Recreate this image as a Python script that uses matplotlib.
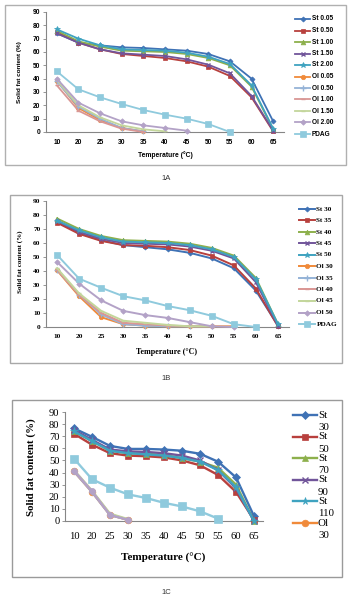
import matplotlib
matplotlib.use("Agg")
import matplotlib.pyplot as plt
from matplotlib.lines import Line2D
from matplotlib.patches import Rectangle

W, H = 348, 600

temps = ["10", "20", "25", "30", "35", "40", "45", "50", "55", "60", "65"]

# ---- Panel 1A ----
labels_a = ["St 0.05", "St 0.50", "St 1.00", "St 1.50", "St 2.00",
            "Ol 0.05", "Ol 0.50", "Ol 1.00", "Ol 1.50", "Ol 2.00", "PDAG"]
st005 = [74, 67, 65, 63.5, 63, 62, 61, 58.5, 53, 40, 8]
st050 = [75, 67, 62, 58.5, 57, 55.5, 53, 49, 42, 26, 0.5]
st100 = [76, 68, 64, 61, 60.5, 60, 58.5, 55.5, 50, 34, 2]
st150 = [74, 67, 62, 59, 58, 57, 54.5, 50.5, 44, 27, 1]
st200 = [77, 70, 65, 62, 61.5, 61, 59.5, 56.5, 51, 35, 2.5]
ol005 = [38.5, 18, 9, 3, 0.5]
ol050 = [38, 19, 10, 3, 0.5]
ol100 = [35, 16, 8, 2.5, 0]
ol150 = [39, 20, 11, 5, 2, 0.5]
ol200 = [40, 22, 14, 8, 5, 3, 1]
pdag_a = [45.5, 32, 26, 21, 16.5, 13, 10, 6, 0]
series_a = [st005, st050, st100, st150, st200, ol005, ol050, ol100, ol150, ol200, pdag_a]

# ---- Panel 1B ----
labels_b = ["St 30", "St 35", "St 40", "St 45", "St 50",
            "Ol 30", "Ol 35", "Ol 40", "Ol 45", "Ol 50", "PDAG"]
st30 = [75.5, 67, 62, 58.5, 57, 55.5, 53, 49, 42, 26, 1]
st35 = [74.5, 66.5, 61.5, 58.5, 58, 57, 55, 51, 44, 27.5, 0.5]
st40 = [77.5, 70, 65, 62, 61.5, 61, 59.5, 56.5, 51, 35, 2]
st45 = [76, 68, 63, 60, 59.5, 59, 57.5, 54.5, 49, 32, 1]
st50 = [76, 69, 64, 61, 60.5, 60, 58.5, 55.5, 50, 34, 2]
ol30 = [40.5, 22, 7, 2, 1, 0.5, 0.5, 0.5, 0.5]
ol35 = [41, 23, 9, 2, 1, 0.5, 0.5, 0.5]
ol40 = [41, 23, 10, 3, 2, 1, 0.5, 0.5]
ol45 = [42, 24, 11.5, 4.5, 3, 1.5, 0.5, 0.5]
ol50 = [46.5, 31, 19, 11.5, 8.5, 6.5, 3.5, 0.5, 0]
pdag_b = [51.5, 34.5, 28, 22, 19, 15, 12, 8, 2, 0]
series_b = [st30, st35, st40, st45, st50, ol30, ol35, ol40, ol45, ol50, pdag_b]

# ---- Panel 1C ----
labels_c = ["St\n30", "St\n50", "St\n70", "St\n90", "St\n110", "Ol\n30",
            "Ol\n50", "Ol\n70", "Ol\n90", "Ol\n110", "PDAG"]
c_st30 = [76.5, 69.5, 62, 59.5, 59.5, 59, 58, 55.5, 49, 36, 4]
c_st50 = [72, 63, 56, 54, 53.5, 52.5, 50, 46, 38, 24, 1]
c_st70 = [74, 66, 58, 56, 55.5, 54.5, 52, 49, 44, 30, 0]
c_st90 = [75, 67, 59, 57.5, 57, 56, 54, 50, 42, 27, 0]
c_st110 = [74, 66, 58, 56, 55, 54, 52, 49, 42, 28, 0]
c_ol30 = [41, 24, 5, 1]
c_ol50 = [41, 24, 5, 1]
c_ol70 = [41.5, 24.5, 5.5, 1]
c_ol90 = [42, 25, 6, 1.5]
c_ol110 = [41.5, 24.5, 5, 1]
c_pdag = [51.5, 34.5, 27.5, 22, 19, 15, 12, 8, 2]
series_c = [c_st30, c_st50, c_st70, c_st90, c_st110, c_ol30,
            c_ol50, c_ol70, c_ol90, c_ol110, c_pdag]

colors = ["#3F72B5", "#B8403D", "#8DB04C", "#71559A", "#3FA3C0", "#F08A3A",
          "#95B3D7", "#D99694", "#C3D69B", "#B3A2C7", "#8FCADD"]
markers_ab = ["D", "s", "^", "x", "*", "o", "+", "_", "_", "D", "s"]
msizes_ab = [2.6, 3.4, 3.4, 3.4, 4.0, 3.2, 4.0, 3.0, 3.0, 2.8, 4.2]
markers_c = ["D", "s", "^", "x", "*", "o", "+", "_", "_", "o", "s"]
msizes_c = [3.8, 4.8, 4.8, 4.8, 5.4, 4.8, 5.0, 4.0, 4.0, 4.4, 5.8]

fig = plt.figure(figsize=(W / 100, H / 100), dpi=100)
fig.patch.set_facecolor("white")


def rect(l, r, t, b):
    return [l / W, 1 - b / H, (r - l) / W, (b - t) / H]


def fx(x):
    return x / W


def fy(y):
    return 1 - y / H


def frame(l, r, t, b, col):
    fig.add_artist(Rectangle((fx(l), fy(b)), (r - l) / W, (b - t) / H,
                             transform=fig.transFigure, fill=False,
                             edgecolor=col, linewidth=1.0))


def setup_axes(ax, font, tsize, bold):
    ax.set_xlim(-0.5, 10.5)
    ax.set_ylim(0, 90)
    ax.set_yticks(range(0, 91, 10))
    ax.set_xticks(range(11))
    ax.set_xticklabels(temps)
    for s in ["top", "right"]:
        ax.spines[s].set_visible(False)
    for s in ["left", "bottom"]:
        ax.spines[s].set_color("#868686")
        ax.spines[s].set_linewidth(0.8)
    ax.tick_params(axis="both", length=2, width=0.6, color="#868686",
                   labelsize=tsize, pad=2)
    ax.tick_params(axis="x", length=0, pad=5)
    for lab in ax.get_xticklabels() + ax.get_yticklabels():
        lab.set_family(font)
        lab.set_fontweight("bold" if bold else "normal")
    ax.set_facecolor("none")


def plot_series(ax, series, markers, msizes, lw):
    for i, ys in enumerate(series):
        xs = list(range(len(ys)))
        ax.plot(xs, ys, color=colors[i], marker=markers[i],
                markersize=msizes[i], linewidth=lw,
                markeredgewidth=1.0 if markers[i] in ["x", "+", "_"] else 0.5,
                markeredgecolor=colors[i], markerfacecolor=colors[i],
                clip_on=False, zorder=3 + i * 0.01)


def legend(entries, y0, dy, x0, x1, font, size, bold, markers, msizes, lw, sub=None):
    for i, lab in enumerate(entries):
        y = y0 + i * dy
        fig.add_artist(Line2D([fx(x0), fx(x1)], [fy(y), fy(y)],
                              transform=fig.transFigure, color=colors[i],
                              linewidth=lw))
        fig.add_artist(Line2D([fx((x0 + x1) / 2)], [fy(y)],
                              transform=fig.transFigure, color=colors[i],
                              marker=markers[i], markersize=msizes[i],
                              markeredgewidth=1.0 if markers[i] in ["x", "+", "_"] else 0.5,
                              markerfacecolor=colors[i], markeredgecolor=colors[i]))
        if sub is None:
            fig.text(fx(x1 + 1.5), fy(y), lab, fontsize=size, family=font,
                     fontweight="bold" if bold else "normal", va="center", ha="left")
        else:
            first, second = lab.split("\n")
            fig.text(fx(x1 + 1), fy(y), first, fontsize=size, family=font,
                     fontweight="bold" if bold else "normal", va="center", ha="left")
            fig.text(fx(x1 + 1), fy(y + sub), second, fontsize=size, family=font,
                     fontweight="bold" if bold else "normal", va="center", ha="left")


# ---------------- 1A ----------------
frame(5, 346, 5, 165, "#B0B0B0")
axA = fig.add_axes(rect(46, 284, 12, 132))
setup_axes(axA, "Liberation Sans", 4.8, True)
plot_series(axA, series_a, markers_ab, msizes_ab, 1.3)
fig.text(fx(19), fy(72), "Solid fat content (%)", rotation=90, fontsize=4.6,
         family="Liberation Sans", fontweight="bold", ha="center", va="center")
fig.text(fx(165), fy(155), "Temperature (°C)", fontsize=4.9,
         family="Liberation Sans", fontweight="bold", ha="center", va="center")
legend(labels_a, 19, 11.5, 295, 310, "Liberation Sans", 4.7, True,
       markers_ab, msizes_ab, 1.3)
fig.text(fx(166), fy(178), "1A", fontsize=5.5, family="Liberation Sans",
         ha="center", va="center", color="#333333")

# ---------------- 1B ----------------
frame(10, 342, 195, 363, "#A8A8A8")
axB = fig.add_axes(rect(46, 289, 201, 327))
setup_axes(axB, "Liberation Serif", 5.3, True)
plot_series(axB, series_b, markers_ab, msizes_ab, 1.4)
fig.text(fx(20), fy(262), "Solid fat content (%)", rotation=90, fontsize=5.0,
         family="Liberation Serif", fontweight="bold", ha="center", va="center")
fig.text(fx(167), fy(352), "Temperature (°C)", fontsize=5.8,
         family="Liberation Serif", fontweight="bold", ha="center", va="center")
legend(labels_b, 209, 11.5, 299, 315, "Liberation Serif", 5.2, True,
       markers_ab, msizes_ab, 1.4)
fig.text(fx(166), fy(379), "1B", fontsize=5.5, family="Liberation Sans",
         ha="center", va="center", color="#333333")

# ---------------- 1C ----------------
frame(12, 342, 400, 577, "#9A9A9A")
axC = fig.add_axes(rect(65, 263, 412, 521))
setup_axes(axC, "Liberation Serif", 7.6, False)
axC.tick_params(axis="x", pad=8)
plot_series(axC, series_c, markers_c, msizes_c, 1.7)
fig.text(fx(31), fy(467), "Solid fat content (%)", rotation=90, fontsize=7.8,
         family="Liberation Serif", fontweight="bold", ha="center", va="center")
fig.text(fx(163), fy(558), "Temperature (°C)", fontsize=8.0,
         family="Liberation Serif", fontweight="bold", ha="center", va="center")
legend(labels_c[:6], 415, 21.6, 293, 317, "Liberation Serif", 7.8, False,
       markers_c, msizes_c, 1.7, sub=12.5)
fig.text(fx(166), fy(593), "1C", fontsize=5.5, family="Liberation Sans",
         ha="center", va="center", color="#333333")

fig.savefig("out.png", dpi=100)
